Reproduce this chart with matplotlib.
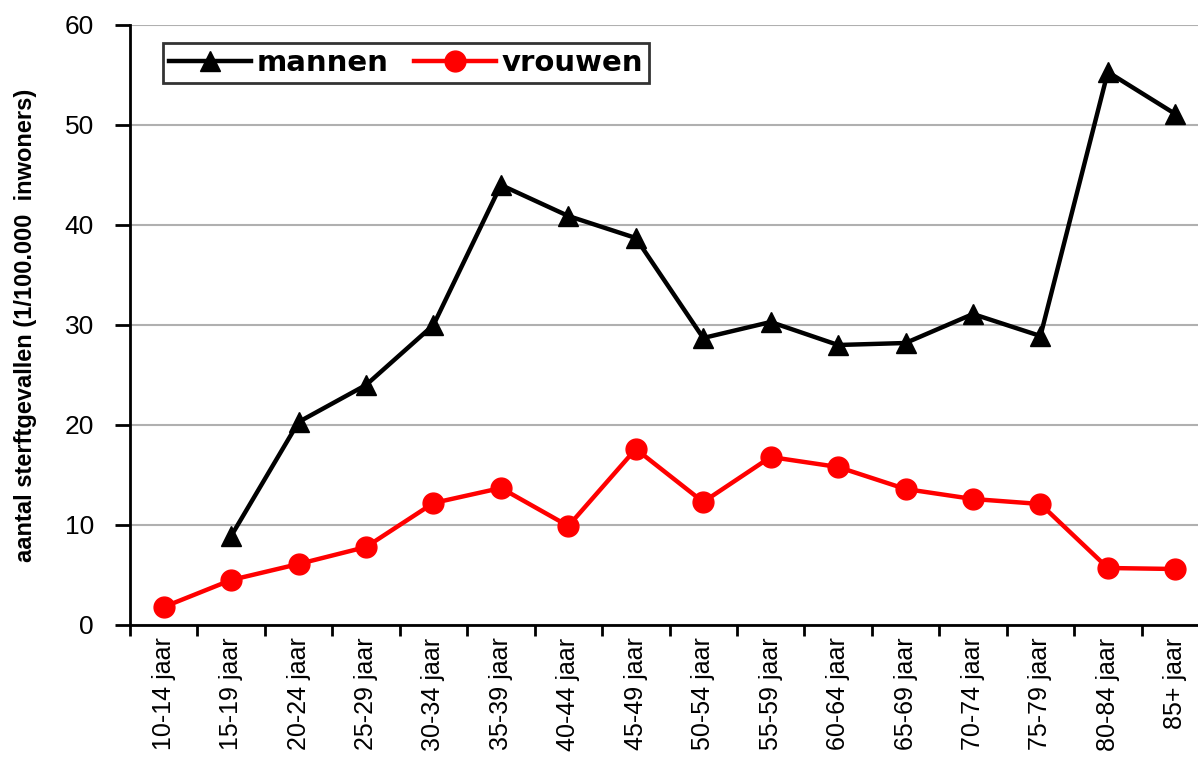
import matplotlib
matplotlib.use("Agg")
import matplotlib.pyplot as plt
import numpy as np

categories = ["10-14 jaar", "15-19 jaar", "20-24 jaar", "25-29 jaar", "30-34 jaar",
              "35-39 jaar", "40-44 jaar", "45-49 jaar", "50-54 jaar", "55-59 jaar",
              "60-64 jaar", "65-69 jaar", "70-74 jaar", "75-79 jaar", "80-84 jaar",
              "85+ jaar"]
mannen = [np.nan, 8.9, 20.3, 24.0, 30.0, 44.0, 40.9, 38.7, 28.7, 30.3, 28.0, 28.2,
          31.1, 28.9, 55.3, 51.1]
vrouwen = [1.8, 4.5, 6.1, 7.8, 12.2, 13.7, 9.9, 17.6, 12.3, 16.8, 15.8, 13.6, 12.6,
           12.1, 5.7, 5.6]
yticks = [0, 10, 20, 30, 40, 50, 60]

plt.rcParams['font.family'] = ['Liberation Sans', 'DejaVu Sans']

W, H = 1198, 775
fig = plt.figure(figsize=(W / 100, H / 100), dpi=100)
left, right, bottom, top = 130, 1209, 625, 25
ax = fig.add_axes([left / W, (H - bottom) / H, (right - left) / W, (bottom - top) / H])

x = np.arange(len(categories))
ax.plot(x, mannen, color='black', lw=3.2, marker='^', ms=15, mfc='black', mec='black',
        label='mannen', zorder=3)
ax.plot(x, vrouwen, color='#ff0000', lw=3.2, marker='o', ms=15, mfc='#ff0000',
        mec='#ff0000', label='vrouwen', zorder=3)

ax.set_xlim(-0.5, len(categories) - 0.5)
ax.set_ylim(0, 60)
ax.set_yticks(yticks)
ax.set_yticklabels([str(v) for v in yticks], fontsize=19)
ax.yaxis.grid(True, color='#b0b0b0', lw=1.5)
ax.set_axisbelow(True)

ax.set_xticks(x)
ax.set_xticklabels(categories, rotation=90, fontsize=18)
ax.set_xticks(np.arange(len(categories) + 1) - 0.5, minor=True)
ax.tick_params(axis='x', which='major', length=0, pad=9)
ax.tick_params(axis='x', which='minor', length=8, width=2, direction='out')
ax.tick_params(axis='y', length=11, width=2, direction='out', pad=15)

for s in ['top', 'right']:
    ax.spines[s].set_visible(False)
for s in ['left', 'bottom']:
    ax.spines[s].set_linewidth(2)

ax.set_ylabel('aantal sterftgevallen (1/100.000  inwoners)', fontsize=17,
              fontweight='bold')
ax.yaxis.set_label_coords(-(left - 37) / (right - left), 0.5)

leg = ax.legend(loc='upper left', bbox_to_anchor=((163 - left) / (right - left), 1 - (43 - top) / (bottom - top)),
                ncol=2, frameon=True, fancybox=False, edgecolor='black',
                prop={'family': 'DejaVu Sans', 'size': 21, 'weight': 'bold'},
                handlelength=2.8, handletextpad=0.2,
                columnspacing=0.9, borderpad=0.2, borderaxespad=0)
leg.get_frame().set_linewidth(2)

fig.savefig('out.png', dpi=100)
